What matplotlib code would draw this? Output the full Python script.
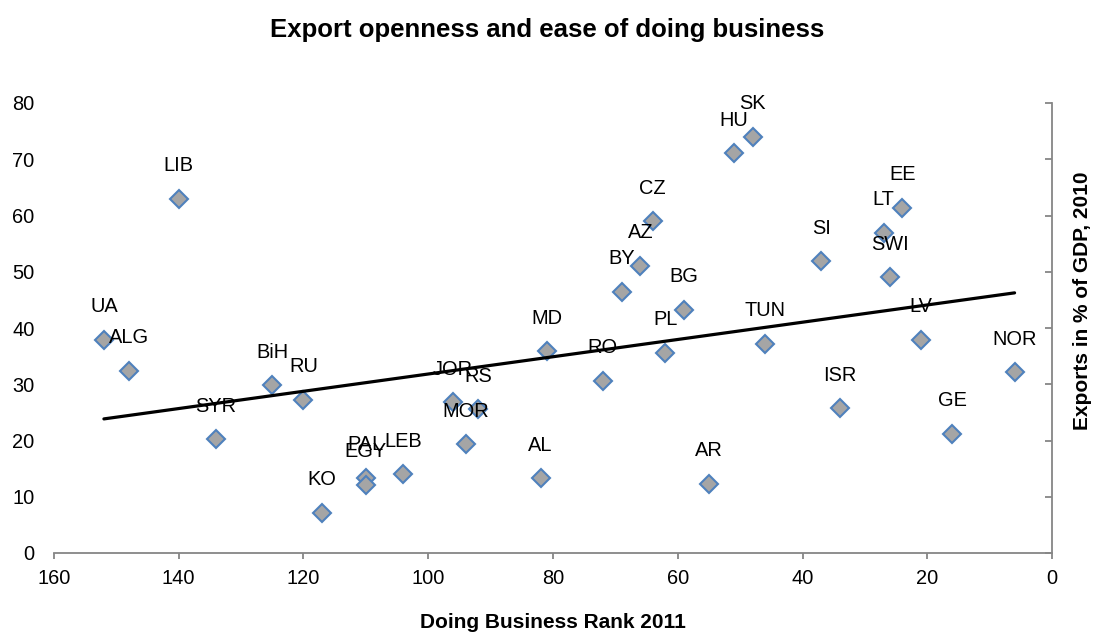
import numpy as np
import matplotlib
matplotlib.use('Agg')
import matplotlib.pyplot as plt

plt.rcParams['font.family'] = ['Liberation Sans', 'DejaVu Sans']

# Doing Business rank 2011 vs exports in % of GDP 2010
countries = ['UA', 'ALG', 'LIB', 'SYR', 'BiH', 'RU', 'KO', 'PAL', 'EGY', 'LEB',
             'JOR', 'RS', 'MOR', 'AL', 'MD', 'RO', 'BY', 'AZ', 'CZ', 'PL',
             'BG', 'AR', 'HU', 'SK', 'TUN', 'SI', 'ISR', 'LT', 'SWI', 'EE',
             'LV', 'GE', 'NOR']
db_rank = [152, 148, 140, 134, 125, 120, 117, 110, 110, 104,
           96, 92, 94, 82, 81, 72, 69, 66, 64, 62,
           59, 55, 51, 48, 46, 37, 34, 27, 26, 24,
           21, 16, 6]
exports = [37.9, 32.4, 63.0, 20.2, 29.8, 27.2, 7.2, 13.4, 12.1, 14.0,
           26.8, 25.6, 19.3, 13.3, 35.9, 30.6, 46.4, 51.1, 59.0, 35.6,
           43.2, 12.3, 71.1, 74.0, 37.2, 51.9, 25.7, 56.9, 49.0, 61.4,
           37.9, 21.2, 32.1]

x_ticks = [160, 140, 120, 100, 80, 60, 40, 20, 0]
y_ticks = [0, 10, 20, 30, 40, 50, 60, 70, 80]

fig = plt.figure(figsize=(10.95, 6.39), dpi=100)
ax = fig.add_axes([54 / 1095, 1 - 553 / 639, 998 / 1095, 450 / 639])

ax.plot(db_rank, exports, linestyle='none', marker='D', markersize=9,
        markerfacecolor='#a5a5a5', markeredgecolor='#4f81bd',
        markeredgewidth=1.5, zorder=2, clip_on=False)

for name, xv, yv in zip(countries, db_rank, exports):
    ax.annotate(name, (xv, yv), xytext=(0, 33), textcoords='offset pixels',
                ha='center', va='center', fontsize=14.4, color='black', zorder=3)

# linear trendline as in the excel chart
coef = np.polyfit(db_rank, exports, 1)
tx = np.array([max(db_rank), min(db_rank)])
ax.plot(tx, np.polyval(coef, tx), color='black', linewidth=2.3, zorder=4,
        solid_capstyle='round')

ax.set_xlim(160, 0)
ax.set_ylim(0, 80)
ax.set_xticks(x_ticks)
ax.set_yticks(y_ticks)
ax.set_xticklabels([str(t) for t in x_ticks], fontsize=14.4)
ax.set_yticklabels([str(t) for t in y_ticks], fontsize=14.4)

for s in ['top', 'left']:
    ax.spines[s].set_visible(False)
for s in ['bottom', 'right']:
    ax.spines[s].set_color('#868686')
    ax.spines[s].set_linewidth(1.3)

ax.tick_params(axis='x', direction='out', length=4.5, width=1.3,
               color='#868686', pad=7)
ax.tick_params(axis='y', left=False, right=True, labelleft=True,
               labelright=False, direction='in', length=5, width=1.3,
               color='#868686', pad=14)

fig.text(547 / 1095, 1 - 30 / 639, 'Export openness and ease of doing business',
         ha='center', va='center', fontsize=18.5, fontweight='bold')
fig.text(553 / 1095, 1 - 623 / 639, 'Doing Business Rank 2011',
         ha='center', va='center', fontsize=15, fontweight='bold')
fig.text(1083 / 1095, 1 - 301 / 639, 'Exports in % of GDP, 2010',
         ha='center', va='center', rotation=90, fontsize=15, fontweight='bold')

fig.savefig('out.png', dpi=100)
